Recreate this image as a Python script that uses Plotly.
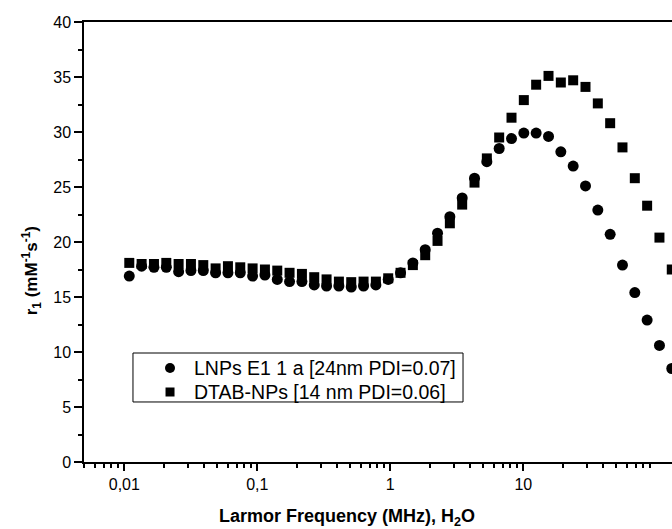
import plotly.graph_objects as go

# Larmor frequency (MHz) of each field-cycling point
freq_mhz = [
    0.01090, 0.01350, 0.01671, 0.02069, 0.02561, 0.03170, 0.03925, 0.04859,
    0.06015, 0.07445, 0.09218, 0.1141, 0.1413, 0.1748, 0.2165, 0.2680,
    0.3317, 0.4107, 0.5084, 0.6294, 0.7792, 0.9645, 1.194, 1.478,
    1.830, 2.265, 2.804, 3.471, 4.297, 5.320, 6.586, 8.153,
    10.09, 12.49, 15.47, 19.15, 23.71, 29.35, 36.33, 44.98,
    55.68, 68.93, 85.31, 105.6, 130.7,
]

# Longitudinal relaxivity r1 (mM^-1 s^-1)
r1_lnps = [
    16.9, 17.8, 17.7, 17.7, 17.3, 17.4, 17.4, 17.2,
    17.2, 17.2, 16.9, 17.0, 16.6, 16.4, 16.4, 16.1,
    16.0, 16.0, 15.9, 16.0, 16.1, 16.6, 17.2, 18.1,
    19.3, 20.8, 22.3, 24.0, 25.8, 27.3, 28.5, 29.4,
    29.9, 29.9, 29.6, 28.2, 26.9, 25.1, 22.9, 20.7,
    17.9, 15.4, 12.9, 10.6, 8.5,
]
r1_dtab = [
    18.1, 18.0, 18.0, 18.1, 18.0, 18.0, 17.9, 17.6,
    17.8, 17.7, 17.6, 17.5, 17.4, 17.2, 17.1, 16.8,
    16.6, 16.4, 16.35, 16.4, 16.4, 16.7, 17.2, 17.9,
    18.8, 20.1, 21.7, 23.4, 25.4, 27.6, 29.5, 31.3,
    32.9, 34.3, 35.1, 34.5, 34.7, 34.1, 32.6, 30.8,
    28.6, 25.8, 23.3, 20.4, 17.5,
]

series_names = ["LNPs E1 1 a [24nm PDI=0.07]", "DTAB-NPs [14 nm PDI=0.06]"]
series_symbols = ["circle", "square"]

x_tickvals = [0.01, 0.1, 1, 10]
x_ticktext = ["0,01", "0,1", "1", "10"]
y_tickvals = [0, 5, 10, 15, 20, 25, 30, 35, 40]

FONT = "Liberation Sans, Arial, sans-serif"

# minor ticks at 2..9 within each decade
x_minor = [m * 10.0 ** d for d in range(-3, 2) for m in range(2, 10)]
x_minor = [v for v in x_minor if 0.005 <= v <= 131]

fig = go.Figure()
fig.add_trace(go.Scatter(
    x=freq_mhz, y=r1_lnps, mode="markers", name=series_names[0],
    marker=dict(symbol=series_symbols[0], size=11, color="black", line=dict(width=0)),
    showlegend=False,
))
fig.add_trace(go.Scatter(
    x=freq_mhz, y=r1_dtab, mode="markers", name=series_names[1],
    marker=dict(symbol=series_symbols[1], size=10, color="black", line=dict(width=0)),
    showlegend=False,
))

# legend box, drawn in the plot's paper coordinates
box_x0, box_x1 = 0.0833, 0.6446
box_y0, box_y1 = 0.1364, 0.2477
row_y = [0.2136, 0.1591]
key_x = 0.1463
label_x = 0.1832

fig.add_shape(
    type="rect", xref="paper", yref="paper",
    x0=box_x0, x1=box_x1, y0=box_y0, y1=box_y1,
    line=dict(color="black", width=1), fillcolor="rgba(0,0,0,0)", layer="below",
)
for name, sym, ry, sz in zip(series_names, series_symbols, row_y, [10, 9]):
    # key marker on an overlay axis spanning the plot area in 0..1 units
    fig.add_trace(go.Scatter(
        x=[key_x], y=[ry], mode="markers", xaxis="x2", yaxis="y2",
        marker=dict(symbol=sym, size=sz, color="black", line=dict(width=0)),
        showlegend=False, hoverinfo="skip",
    ))
    fig.add_annotation(
        text=name, xref="paper", yref="paper", x=label_x, y=ry,
        xanchor="left", yanchor="middle", showarrow=False,
        font=dict(family=FONT, size=19.5, color="black"),
    )

fig.update_layout(
    width=672, height=529,
    margin=dict(l=84, r=0, t=22, b=67),
    paper_bgcolor="white", plot_bgcolor="white",
    font=dict(family=FONT, size=16, color="black"),
    showlegend=False,
    xaxis=dict(
        type="log", range=[-2.303, 2.118],
        tickmode="array", tickvals=x_tickvals, ticktext=x_ticktext,
        ticks="outside", ticklen=7, tickwidth=1.5, tickcolor="black",
        showline=True, linecolor="black", linewidth=1.5, mirror=True,
        showgrid=False, zeroline=False,
        tickfont=dict(family=FONT, size=16),
        minor=dict(tickmode="array", tickvals=x_minor, ticks="outside",
                   ticklen=4, tickwidth=1.5, tickcolor="black", showgrid=False),
    ),
    yaxis=dict(
        range=[0, 40],
        tickmode="array", tickvals=y_tickvals,
        ticks="outside", ticklen=8, tickwidth=1.5, tickcolor="black",
        showline=True, linecolor="black", linewidth=1.5, mirror=False,
        showgrid=False, zeroline=False,
        tickfont=dict(family=FONT, size=16),
        minor=dict(dtick=2.5, ticks="outside", ticklen=4, tickwidth=1.5,
                   tickcolor="black", showgrid=False),
    ),
    xaxis2=dict(overlaying="x", range=[0, 1], visible=False, fixedrange=True),
    yaxis2=dict(overlaying="y", range=[0, 1], visible=False, fixedrange=True),
)

# axis titles
fig.add_annotation(
    text="<b>Larmor Frequency (MHz), H<sub>2</sub>O</b>",
    xref="paper", yref="paper", x=0.447, y=-0.127,
    xanchor="center", yanchor="middle", showarrow=False,
    font=dict(family=FONT, size=18, color="black"),
)
fig.add_annotation(
    text="<b>r<sub>1</sub> (mM<sup>-1</sup>s<sup>-1</sup>)</b>",
    xref="paper", yref="paper", x=-0.089, y=0.435,
    xanchor="center", yanchor="middle", textangle=-90, showarrow=False,
    font=dict(family=FONT, size=17, color="black"),
)

fig.write_html("out.html")
